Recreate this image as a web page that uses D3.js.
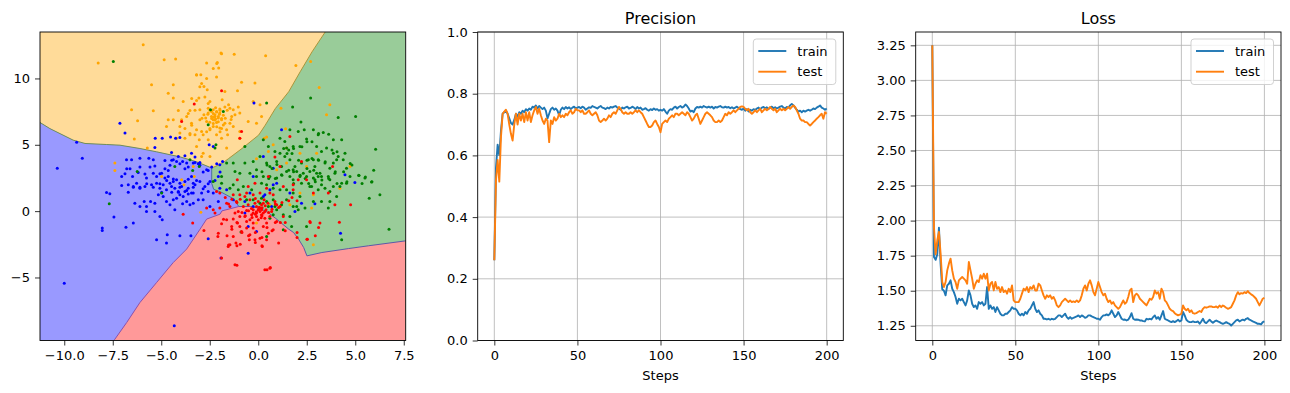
<!DOCTYPE html>
<html>
<head>
<meta charset="utf-8">
<script src="https://cdn.jsdelivr.net/npm/d3@7"></script>
<style>
  body { margin: 0; background: #fff; }
  svg { display: block; font-family: "DejaVu Sans", sans-serif; }
  .tick text { font-size: 13px; fill: #000; }
  .tick line { stroke: #000; stroke-width: 0.8; }
</style>
</head>
<body>
<svg id="chart" width="1290" height="393"></svg>
<script>
// ---- tick labels ----
const scatterXTicks = [-10, -7.5, -5, -2.5, 0, 2.5, 5, 7.5];
const scatterYTicks = [-5, 0, 5, 10];
const stepTicks = [0, 50, 100, 150, 200];
const precisionTicks = [0, 0.2, 0.4, 0.6, 0.8, 1.0];
const lossTicks = [1.25, 1.5, 1.75, 2.0, 2.25, 2.5, 2.75, 3.0, 3.25];
const seriesNames = ["train", "test"];

// ---- decision boundaries (feature space) ----
const orangeBlue = [[-11.25,6.68],[-10.74,6.22],[-9.54,5.35],[-8.93,5.10],[-7.81,5.02],[-7.13,4.97],[-6.10,4.72],[-5.24,4.47],[-4.04,4.09],[-3.18,3.72],[-2.4,3.25]];
const orangeGreen = [[3.45,13.5],[2.77,12.0],[2.16,10.5],[1.57,9.0],[0.88,7.73],[0.36,6.48],[0.02,5.73],[-0.84,4.72],[-1.53,3.96],[-1.87,3.59],[-2.4,3.25]];
const blueGreen = [[-2.4,3.25],[-2.4,2.1],[-2.3,1.65],[-1.87,1.40],[-1.3,0.95],[-1.0,0.35]];
const blueRed = [[-1.0,0.35],[-1.87,0.02],[-1.97,-0.23],[-2.66,-0.6],[-3.0,-1.36],[-3.69,-2.86],[-4.38,-3.87],[-5.24,-5.38],[-6.10,-6.89],[-6.78,-8.39],[-7.39,-9.65],[-7.45,-9.75]];
const redGreen = [[-1.0,0.35],[-0.4,0.35],[0.1,0.2],[0.5,-0.1],[0.9,-0.55],[1.57,-1.36],[1.82,-1.61],[2.08,-2.11],[2.34,-2.74],[2.51,-3.37],[3.28,-3.12],[4.66,-2.82],[5.69,-2.61],[7.6,-2.24]];

// ---- scatter points ----
const orangePts = [[-5.93,12.54],[-8.25,11.16],[-4.85,11.41],[-4.26,11.46],[-1.92,11.91],[-1.24,11.83],[0.38,11.71],[-2.66,11.16],[-2.11,11.21],[-2.04,10.78],[-3.18,10.28],[-2.96,10.28],[-2.15,10.10],[-5.50,9.52],[-4.38,9.52],[-2.80,9.40],[-2.63,9.15],[-0.86,9.72],[-0.17,9.65],[-1.07,9.07],[-1.72,9.02],[-4.64,8.89],[-4.38,8.52],[-3.87,8.27],[-3.18,8.34],[-3.06,8.52],[-2.49,8.27],[-1.86,8.39],[-1.53,8.02],[-0.26,8.27],[0.09,8.02],[-6.53,7.64],[-5.41,7.56],[-4.12,7.59],[-3.52,7.59],[-3.01,7.64],[-2.58,7.76],[-2.32,7.64],[-2.15,7.51],[-1.98,7.69],[-1.72,7.84],[-1.46,7.76],[-1.29,7.64],[-1.03,7.84],[-0.95,7.39],[-2.80,7.26],[-2.58,7.39],[-2.41,7.14],[-2.23,7.14],[-2.06,7.01],[-1.89,6.88],[-1.37,7.14],[-1.20,7.26],[-3.01,6.88],[-3.69,7.14],[-3.95,6.88],[-4.64,6.88],[-4.38,6.88],[-6.22,6.81],[-4.04,6.38],[-3.44,6.63],[-2.66,6.76],[-2.32,6.88],[-2.15,6.68],[-1.72,6.63],[-1.46,6.63],[-0.52,6.76],[-0.09,6.63],[0.17,7.14],[-4.73,6.38],[-3.18,6.13],[-2.92,6.01],[-2.49,6.13],[-1.98,6.26],[-1.63,6.13],[-1.29,6.38],[-0.95,6.01],[-3.52,5.75],[-3.26,5.75],[-2.84,5.75],[-2.15,5.75],[-1.58,5.75],[-6.39,5.43],[-5.72,4.75],[-3.04,5.38],[-2.58,5.38],[-1.89,5.50],[-0.95,5.50],[-3.18,4.87],[-2.84,4.37],[-2.49,4.12],[-2.92,4.12],[-4.21,5.50],[-4.04,5.88],[-3.78,5.50],[-2.32,6.38],[-2.23,7.26],[-1.98,7.39],[-2.41,7.51],[-2.71,7.01],[-2.20,6.95],[-2.06,7.14],[-7.39,3.62],[-7.39,3.07],[-4.98,2.61],[-3.95,2.36],[-3.83,1.98],[-2.96,-0.08],[-3.35,3.37],[-3.30,2.61],[2.84,-2.54],[3.14,9.32],[2.70,11.28],[3.69,8.02],[3.52,7.26],[1.94,10.98],[1.17,7.76],[1.41,6.21],[0.31,5.50],[0.43,5.58],[0.77,5.00],[-0.09,3.94],[-0.09,-0.90],[1.46,4.75],[4.73,3.37],[4.21,1.73],[2.84,1.23],[2.15,1.36],[1.63,0.48],[0.60,0.48],[0.17,0.98],[2.49,3.37],[-1.63,4.75],[1.46,3.62],[0.52,4.50],[0.95,3.12],[3.01,4.37],[2.15,4.37],[1.12,0.35],[2.75,0.23],
  [-2.49,7.61],[-2.32,7.36],[-2.14,7.48],[-1.97,7.61],[-2.40,6.98],[-2.23,6.86],[-2.06,6.73],[-1.89,6.98],[-2.32,6.60],[-2.14,6.35],[-1.89,6.23],[-2.49,6.23],[-2.66,5.98],[-1.97,5.98],[-1.80,7.23],[-2.58,8.11],[-2.75,8.61],[-3.01,9.37],[-3.18,10.25],[-2.92,9.62],[-2.66,9.99],[-2.32,10.75],[-2.14,11.12],[-1.89,11.87],[-3.43,8.49],[-3.26,7.61],[-3.61,7.36],[-3.43,6.48],[-3.78,6.23],[-3.52,5.85],[-2.3,7.1],[-2.0,7.3],[-1.7,7.0],[-2.6,7.3],[-1.6,7.6],[-2.2,7.8],[-2.9,7.0],[-1.4,6.9],[-2.5,6.7],[-1.8,6.5]];
const bluePts = [[-7.13,6.63],[-6.87,5.88],[-9.36,5.20],[-9.07,3.99],[-10.36,3.24],[-7.82,1.41],[-7.65,1.31],[-7.44,-0.45],[-8.04,-1.28],[-8.04,-1.46],[-6.82,-1.21],[-6.44,-0.90],[-10.0,-5.43],[-4.33,-8.64],[-5.24,-2.16],[-4.73,-2.41],[-4.69,-1.78],[-4.04,-1.86],[-3.47,-1.86],[-2.58,-2.09],[-1.92,-3.54],[-0.52,-3.17],[-5.31,5.50],[-4.95,5.50],[-4.52,5.58],[-4.26,5.50],[-4.04,5.55],[-5.33,4.80],[-4.47,4.42],[-4.12,4.12],[-3.78,4.17],[-3.44,4.37],[-6.79,3.87],[-6.53,3.87],[-6.10,3.99],[-5.64,3.99],[-5.41,3.87],[-4.81,3.82],[-4.38,3.87],[-4.21,3.74],[-3.90,3.74],[-3.69,3.62],[-3.26,3.67],[-3.09,3.57],[-3.01,3.67],[-7.04,2.61],[-6.48,2.61],[-6.19,2.91],[-5.84,2.79],[-5.76,2.49],[-5.41,2.86],[-5.24,2.61],[-4.98,2.86],[-4.81,2.49],[-4.64,2.61],[-4.55,2.11],[-4.38,2.24],[-4.21,2.36],[-4.04,2.11],[-3.78,2.24],[-3.61,2.41],[-3.44,2.61],[-3.35,2.11],[-6.70,1.98],[-6.44,1.86],[-6.27,2.11],[-6.10,1.73],[-5.84,1.86],[-5.50,1.98],[-5.24,2.11],[-5.07,1.73],[-4.90,1.98],[-4.73,1.61],[-4.47,1.86],[-4.30,1.73],[-4.12,1.48],[-3.95,1.86],[-3.78,1.48],[-3.61,1.73],[-3.44,1.36],[-3.26,1.98],[-3.01,2.24],[-2.75,1.86],[-2.58,1.48],[-2.49,2.24],[-6.36,0.60],[-6.10,0.35],[-5.88,0.73],[-5.76,0.35],[-5.55,0.73],[-5.33,0.60],[-5.15,1.23],[-4.90,1.11],[-4.73,0.73],[-4.55,0.48],[-4.38,0.85],[-4.21,0.98],[-4.04,1.23],[-3.87,1.11],[-3.69,0.73],[-3.52,0.48],[-3.35,0.60],[-3.09,0.85],[-2.84,0.85],[-2.49,0.35],[-5.76,-0.03],[-5.33,-0.03],[-5.07,-0.40],[-4.95,-0.65],[-4.30,0.10],[-3.90,0.55],[-3.35,1.36],[-2.92,1.36],[-2.66,3.12],[-2.53,5.00],[-2.32,4.87],[-1.98,3.49],[-1.84,3.74],[1.20,6.13],[-0.22,8.14],[4.47,2.74],[4.98,2.16],[2.92,0.55],[4.24,-1.66],[1.89,-0.03],[0.34,1.23],[0.77,1.98],[2.23,0.60],[1.63,1.36],[0.60,1.61],[0.26,1.11],[-0.43,1.36],[-0.69,0.73],[-1.63,1.61],[-1.98,1.73],[-2.06,2.61],[-1.29,0.85],[0.77,3.24],[0.95,2.11],[-0.26,2.61],[0.26,4.12],[0.69,0.35],[-0.26,0.35],[-0.69,-0.15],[-0.52,-1.16],[-2.06,0.73],[-2.32,1.36],[-0.09,-1.53],
  [-6.78,3.19],[-6.61,3.19],[-6.10,3.32],[-5.58,3.32],[-5.33,3.40],[-5.07,2.82],[-4.81,3.19],[-4.64,3.07],[-4.55,3.45],[-4.46,3.83],[-4.04,3.57],[-3.78,3.19],[-3.61,3.32],[-3.35,3.62],[-3.26,4.07],[-3.01,3.45],[-2.84,2.94],[-2.58,3.07],[-2.40,3.32],[-2.14,3.57],[-1.97,2.94],[-2.23,2.31],[-2.58,2.06],[-2.84,1.68],[-3.18,2.31],[-3.35,1.80],[-3.69,1.55],[-4.04,1.80],[-4.38,2.43],[-4.72,2.31],[-5.07,2.06],[-5.41,1.80],[-5.75,2.06],[-6.10,1.80],[-6.44,1.80],[-6.70,1.42],[-7.04,1.93],[-6.87,2.82],[-4.98,1.42],[-4.46,1.42],[-4.12,1.42],[-3.61,1.30]];
const greenPts = [[-7.47,11.28],[0.43,8.14],[1.77,7.84],[2.70,8.52],[2.20,6.71],[4.12,7.06],[5.02,7.14],[3.09,5.75],[2.37,6.13],[2.49,5.43],[3.35,5.93],[3.87,5.38],[4.30,5.38],[4.47,4.37],[6.05,4.67],[5.19,2.69],[5.50,2.49],[5.84,2.19],[5.72,0.98],[6.27,1.23],[6.74,-1.36],[4.30,-2.16],[3.61,0.23],[2.84,0.73],[3.26,0.73],[3.69,0.73],[3.87,1.86],[4.21,1.86],[4.55,2.11],[4.04,1.11],[3.69,1.48],[3.26,1.98],[2.92,2.36],[2.66,1.86],[2.23,2.11],[1.80,2.36],[1.63,2.61],[1.98,2.99],[2.32,2.86],[2.66,2.99],[3.01,2.86],[3.26,2.61],[3.61,2.61],[3.95,2.86],[4.04,3.87],[3.69,3.24],[3.44,3.62],[3.09,3.87],[2.84,3.87],[2.58,3.87],[2.23,3.62],[1.89,3.37],[1.63,3.87],[1.37,4.12],[1.12,4.37],[0.86,4.50],[0.52,4.87],[0.26,5.38],[0.09,4.12],[-0.26,3.74],[-0.69,4.87],[-0.69,3.62],[-0.95,2.86],[-1.20,2.99],[-1.29,3.62],[-1.63,3.62],[-1.89,2.11],[-2.32,2.24],[-1.89,2.61],[-0.43,2.86],[-0.09,3.12],[0.43,3.62],[0.60,3.37],[0.95,3.74],[1.20,3.37],[1.46,2.99],[1.20,2.74],[0.95,2.49],[0.60,2.61],[0.26,2.61],[0.17,2.11],[0.43,1.98],[0.77,1.73],[1.12,1.61],[1.46,1.61],[1.80,1.36],[2.15,1.11],[1.46,0.85],[1.20,0.48],[0.95,0.10],[0.77,-0.28],[1.29,-0.28],[1.63,-0.40],[2.06,0.10],[2.41,0.23],[1.72,-1.16],[2.49,-1.16],[1.98,0.35],[1.80,0.35],[2.75,1.86],[3.09,1.61],[3.44,1.73],[3.69,2.36],[4.73,2.61],[4.30,2.11],[2.92,3.37],[3.26,4.50],[2.15,4.87],[1.80,4.87],[1.46,4.75],[1.37,5.25],[1.12,5.50],[1.63,6.13],[2.06,6.01],[2.84,6.13],[3.52,4.75],[3.01,4.87],[3.87,4.37],[4.12,4.12],[-4.30,3.37],[-3.38,3.07],[-3.52,3.87],[-3.04,3.37],[-2.18,5.00],[-2.23,4.75],[-2.58,6.51],[-2.46,7.64],[-1.80,7.51],[-4.98,1.36],[-6.24,2.99],[-7.68,0.55],[-0.89,-1.58],[0.43,-1.91],[1.29,-1.41],[0.60,-0.53],[0.09,0.60],[-0.26,0.85],[0.17,0.98],[0.43,0.73],[0.77,0.85],[-0.60,0.85],[-0.34,1.61],[-0.77,1.86],[-1.03,1.61],[-1.29,1.98],[-1.46,1.73],[0.52,0.35],[0.86,0.35],[-0.09,2.61],[1.80,3.12],[2.15,2.61],[2.49,2.61],[2.84,2.49],[3.09,2.61],[3.18,2.86],[3.87,3.62],[4.38,3.87],[4.55,3.24],
  [3.63,5.80],[3.11,5.85],[2.77,5.22],[2.51,5.22],[2.25,4.85],[1.82,4.72],[1.57,4.60],[1.31,4.72],[1.48,4.34],[1.74,4.34],[2.08,3.84],[2.51,3.84],[2.77,3.96],[3.11,3.84],[3.45,3.72],[3.80,4.60],[4.06,4.47],[4.74,3.59],[5.18,2.71],[5.52,2.58],[5.95,3.09],[4.83,3.47],[4.40,2.96],[3.97,2.96],[3.63,2.46],[3.28,2.34],[2.94,2.21],[2.42,2.46],[2.16,2.71],[1.82,2.96],[1.57,3.09],[0.96,3.51],[0.71,3.21],[0.45,3.47],[0.19,2.96],[0.54,2.46],[0.88,2.46],[1.22,2.71],[2.51,3.21],[2.86,3.09],[1.82,2.08],[2.60,2.08],[4.06,2.08],[4.57,2.21],[5.35,2.08],[5.86,2.21]];
const redPts = [[-3.30,8.07],[-1.89,9.07],[-3.95,6.76],[-0.86,6.01],[-0.95,5.50],[1.63,5.63],[3.83,3.37],[4.76,0.48],[4.18,-0.83],[3.18,-0.90],[2.66,-0.78],[2.53,-2.11],[0.86,4.07],[1.12,3.37],[0.52,2.61],[0.43,1.73],[0.77,1.23],[0.09,1.36],[-0.26,1.23],[-0.60,1.36],[-0.95,1.23],[-1.29,1.23],[-1.63,0.60],[-1.46,0.35],[-1.98,0.23],[-2.32,0.10],[-2.66,0.23],[-2.23,-0.15],[-3.87,-0.23],[-3.38,-0.90],[-2.80,-1.46],[-2.08,-1.91],[-1.89,-0.95],[-1.63,-0.65],[-1.29,-0.60],[-1.07,-0.90],[-0.86,-1.53],[-0.60,-1.28],[-0.43,-1.78],[-0.17,-2.16],[0.09,-2.04],[0.43,-2.16],[0.52,-1.66],[0.77,-1.41],[-1.29,-1.91],[-1.46,-2.54],[-1.55,-2.66],[-1.15,-2.41],[-2.06,-1.66],[-1.89,-3.54],[-1.20,-4.05],[-0.46,-2.16],[0.21,-2.66],[0.34,-4.42],[0.60,-4.30],[0.95,-0.78],[1.29,-0.40],[-0.26,0.10],[-0.09,0.35],[0.09,0.23],[0.26,0.60],[-0.09,-0.40],[-0.43,-0.65],[-0.69,-0.40],[-0.95,-0.40],[-1.20,-0.15],[-0.34,-0.28],[0.17,-0.28],[0.34,-0.53],[0.43,-0.90],[-0.26,-0.90],[-0.60,-0.78],[0,0.73],[-0.17,0.60],[0.17,0.48],[0.34,-0.03],[0.69,-0.03],[0.95,0.48],[1.12,0.35],[0.86,0.73],[-0.52,0.48],[-0.43,0.85],[-0.77,0.35],[-1.03,-0.03],[0.60,-0.40],[0,-0.65],[0.26,-1.16],[-0.26,-1.28],[-0.95,-1.16],[-1.37,-1.16],[-1.12,0.73],[-0.69,1.11],[1.80,1.61],[2.06,2.36],[2.23,3.74],[2.49,2.36],[3.95,0.48],[3.61,1.36],[2.84,1.36],[1.80,1.98],[0.60,1.36],[1.29,1.86],[-0.52,1.86],[-1.08,2.36],[-0.17,2.11],[-1.98,1.36],[-2.15,1.48],[-0.09,-0.15],[0.09,-0.03],[-0.26,-0.15],[0,0.10],[0.17,0.10],[0.26,-0.15],[0.05,0.3],[-0.1,-0.05],[0.2,0.25],[0.4,0.1],[-0.35,0.2],[0.15,-0.5],[0.5,0.6],[-0.6,0.05],[0.3,0.85],[-0.15,0.95],
  [-1.70,1.03],[-1.53,0.53],[-1.36,0.90],[-1.10,0.65],[-0.93,0.90],[-0.84,-0.10],[-0.67,-0.35],[-0.50,0.02],[-0.32,-0.48],[-0.15,-0.23],[0.02,0.15],[0.19,-0.35],[0.36,0.40],[0.53,-0.10],[0.71,0.15],[0.88,0.53],[1.05,0.27],[1.22,0.65],[1.39,-0.86],[1.57,0.78],[1.74,1.03],[2.00,0.78],[-1.79,-0.61],[-1.61,-1.86],[-1.36,-1.36],[-1.10,-0.86],[-0.84,-1.61],[-0.50,-1.86],[-0.15,-1.61],[0.19,-1.99],[0.45,-1.23],[0.71,-1.48],[0.88,-0.86],[1.14,-0.86],[1.39,-1.48],[2.00,-1.61],[2.00,-1.99],[2.51,-2.11],[2.94,-1.86],[3.11,-1.23],[2.68,-0.86],[-1.10,-2.61],[-1.53,-2.56],[-0.93,-2.49],[-0.15,-2.36],[0.19,-2.61],[1.05,-2.41],[0.62,-4.25],[0.45,-4.42],[-1.10,-4.07]];

// ---- training curves (one value per step) ----
const trainPrecision = [0.26,0.56,0.635,0.60,0.68,0.735,0.74,0.745,0.735,0.72,
0.705,0.70,0.715,0.735,0.725,0.74,0.735,0.745,0.74,0.75,
0.745,0.752,0.748,0.758,0.755,0.762,0.752,0.76,0.755,0.75,
0.755,0.745,0.72,0.735,0.75,0.755,0.748,0.752,0.745,0.73,
0.748,0.755,0.75,0.757,0.752,0.756,0.75,0.755,0.758,0.752,
0.755,0.757,0.753,0.758,0.755,0.748,0.752,0.756,0.754,0.76,
0.757,0.755,0.752,0.757,0.76,0.755,0.753,0.75,0.755,0.752,
0.757,0.755,0.758,0.76,0.755,0.752,0.748,0.755,0.752,0.756,
0.758,0.752,0.754,0.758,0.755,0.75,0.757,0.752,0.755,0.748,
0.75,0.753,0.748,0.745,0.75,0.747,0.752,0.748,0.75,0.745,
0.748,0.745,0.75,0.742,0.735,0.745,0.75,0.748,0.755,0.758,
0.752,0.757,0.76,0.755,0.758,0.765,0.76,0.752,0.742,0.745,
0.74,0.752,0.757,0.755,0.758,0.755,0.76,0.757,0.755,0.758,
0.755,0.758,0.752,0.757,0.755,0.758,0.76,0.756,0.755,0.758,
0.755,0.757,0.753,0.756,0.752,0.755,0.758,0.754,0.75,0.748,
0.752,0.745,0.75,0.742,0.748,0.745,0.75,0.747,0.752,0.755,
0.75,0.755,0.757,0.752,0.756,0.75,0.755,0.758,0.753,0.756,
0.752,0.755,0.758,0.76,0.755,0.752,0.757,0.755,0.762,0.767,
0.762,0.755,0.748,0.742,0.745,0.74,0.745,0.742,0.745,0.748,
0.745,0.748,0.752,0.75,0.755,0.758,0.762,0.755,0.752,0.748,0.752];
const testPrecision = [0.26,0.52,0.585,0.515,0.66,0.735,0.742,0.748,0.735,0.70,
0.67,0.648,0.70,0.735,0.70,0.735,0.713,0.735,0.708,0.74,
0.713,0.74,0.708,0.73,0.746,0.757,0.735,0.751,0.73,0.713,
0.702,0.719,0.713,0.643,0.713,0.702,0.724,0.713,0.719,0.735,
0.724,0.73,0.724,0.735,0.73,0.74,0.746,0.735,0.74,0.751,
0.746,0.746,0.74,0.746,0.735,0.735,0.74,0.746,0.735,0.73,
0.735,0.74,0.73,0.713,0.708,0.713,0.719,0.713,0.719,0.73,
0.724,0.735,0.74,0.735,0.746,0.757,0.751,0.74,0.735,0.74,
0.735,0.735,0.74,0.735,0.74,0.746,0.74,0.746,0.74,0.735,
0.724,0.713,0.702,0.692,0.692,0.697,0.708,0.713,0.702,0.692,
0.675,0.702,0.708,0.713,0.708,0.719,0.724,0.73,0.724,0.735,
0.735,0.73,0.735,0.74,0.735,0.73,0.74,0.735,0.724,0.713,
0.719,0.73,0.735,0.719,0.702,0.713,0.724,0.735,0.74,0.735,
0.73,0.724,0.713,0.708,0.708,0.713,0.708,0.713,0.724,0.735,
0.73,0.74,0.735,0.74,0.746,0.74,0.746,0.751,0.757,0.759,
0.757,0.751,0.746,0.751,0.74,0.735,0.74,0.746,0.74,0.746,
0.751,0.74,0.746,0.751,0.746,0.751,0.757,0.751,0.746,0.751,
0.74,0.746,0.751,0.746,0.751,0.746,0.751,0.757,0.751,0.757,
0.762,0.757,0.746,0.735,0.719,0.713,0.713,0.708,0.708,0.702,
0.697,0.702,0.708,0.713,0.719,0.724,0.73,0.735,0.719,0.74,0.735];
const trainLoss = [3.25,1.74,1.72,1.76,1.95,1.69,1.51,1.50,1.467,1.538,
1.55,1.574,1.514,1.49,1.455,1.407,1.443,1.431,1.443,1.419,
1.395,1.431,1.502,1.467,1.407,1.383,1.395,1.371,1.419,1.407,
1.419,1.395,1.407,1.526,1.371,1.395,1.371,1.383,1.348,1.383,
1.36,1.336,1.324,1.324,1.336,1.336,1.348,1.36,1.383,1.371,
1.371,1.36,1.336,1.324,1.336,1.324,1.348,1.336,1.36,1.371,
1.395,1.419,1.371,1.348,1.36,1.336,1.324,1.30,1.30,1.295,
1.30,1.293,1.30,1.295,1.30,1.312,1.324,1.324,1.312,1.324,
1.336,1.312,1.30,1.312,1.30,1.307,1.312,1.317,1.324,1.312,
1.324,1.317,1.307,1.312,1.324,1.324,1.317,1.312,1.307,1.30,
1.30,1.293,1.312,1.324,1.324,1.331,1.324,1.336,1.36,1.336,
1.312,1.324,1.348,1.324,1.30,1.293,1.295,1.288,1.293,1.312,
1.34,1.30,1.293,1.295,1.293,1.288,1.288,1.283,1.281,1.30,
1.295,1.30,1.295,1.312,1.324,1.30,1.312,1.293,1.324,1.355,
1.30,1.293,1.288,1.281,1.276,1.283,1.276,1.283,1.293,1.281,
1.288,1.348,1.324,1.293,1.281,1.276,1.276,1.281,1.276,1.276,
1.281,1.264,1.281,1.30,1.276,1.269,1.281,1.293,1.281,1.271,
1.281,1.288,1.281,1.276,1.269,1.264,1.269,1.276,1.269,1.264,
1.252,1.264,1.276,1.288,1.293,1.281,1.288,1.293,1.288,1.30,
1.305,1.293,1.288,1.281,1.276,1.271,1.264,1.264,1.26,1.276,1.281];
const testLoss = [3.25,1.95,1.76,1.86,1.92,1.764,1.562,1.526,1.562,1.645,
1.693,1.729,1.645,1.586,1.562,1.514,1.574,1.586,1.598,1.586,
1.574,1.55,1.705,1.645,1.586,1.514,1.55,1.574,1.562,1.61,
1.586,1.621,1.586,1.621,1.502,1.55,1.562,1.502,1.562,1.514,
1.526,1.49,1.526,1.49,1.502,1.479,1.514,1.49,1.538,1.431,
1.419,1.419,1.419,1.443,1.479,1.514,1.502,1.526,1.49,1.526,
1.514,1.538,1.502,1.502,1.55,1.538,1.502,1.467,1.443,1.467,
1.455,1.467,1.443,1.455,1.431,1.395,1.383,1.395,1.419,1.431,
1.443,1.431,1.419,1.431,1.419,1.424,1.419,1.431,1.419,1.431,
1.467,1.514,1.538,1.502,1.55,1.574,1.538,1.49,1.467,1.514,
1.562,1.526,1.49,1.467,1.479,1.443,1.419,1.431,1.407,1.419,
1.395,1.383,1.371,1.383,1.407,1.431,1.407,1.419,1.455,1.502,
1.514,1.419,1.467,1.479,1.467,1.443,1.431,1.419,1.407,1.395,
1.419,1.443,1.436,1.455,1.502,1.479,1.49,1.443,1.514,1.49,
1.431,1.419,1.395,1.371,1.36,1.355,1.34,1.331,1.324,1.329,
1.336,1.395,1.371,1.36,1.371,1.348,1.36,1.34,1.336,1.34,
1.348,1.355,1.348,1.371,1.383,1.379,1.383,1.388,1.388,1.383,
1.383,1.388,1.379,1.395,1.383,1.395,1.388,1.379,1.371,1.376,
1.383,1.407,1.431,1.467,1.49,1.474,1.483,1.479,1.49,1.483,
1.498,1.483,1.474,1.467,1.455,1.443,1.419,1.395,1.419,1.443,1.45];

// ---- layout ----
const svg = d3.select("#chart");
const axTop = 32, axBottom = 340.5;
const minus = (s) => s.replace(/-/g, "\u2212");
const colors = { train: "#1f77b4", test: "#ff7f0e" };

function styleAxis(g) {
  g.select(".domain").remove();
  g.selectAll(".tick text").attr("font-family", "DejaVu Sans").attr("font-size", 13);
}

function frame(left, right) {
  svg.append("rect")
    .attr("x", left).attr("y", axTop)
    .attr("width", right - left).attr("height", axBottom - axTop)
    .attr("fill", "none").attr("stroke", "#000").attr("stroke-width", 0.9);
}

// ---- panel 1: decision regions + scatter ----
function drawScatter() {
  const left = 40, right = 405.7;
  const x = d3.scaleLinear().domain([-11.25, 7.6]).range([left, right]);
  const y = d3.scaleLinear().domain([-9.75, 13.5]).range([axBottom, axTop]);

  svg.append("clipPath").attr("id", "clip1")
    .append("rect").attr("x", left).attr("y", axTop)
    .attr("width", right - left).attr("height", axBottom - axTop);

  const g = svg.append("g").attr("clip-path", "url(#clip1)");
  const poly = d3.line().x((d) => x(d[0])).y((d) => y(d[1]));

  // green is the background class, the other regions sit on top of it
  g.append("rect")
    .attr("x", left).attr("y", axTop)
    .attr("width", right - left).attr("height", axBottom - axTop)
    .attr("fill", "#99cc99");

  const orangeRegion = [[-11.25, 13.5], ...orangeGreen, ...orangeBlue.slice().reverse()];
  const blueRegion = [...orangeBlue, ...blueGreen, ...blueRed, [-11.25, -9.75]];
  const redRegion = [...redGreen, [7.6, -9.75], ...blueRed.slice().reverse()];

  g.append("path").attr("d", poly(orangeRegion) + "Z").attr("fill", "#ffdb99");
  g.append("path").attr("d", poly(blueRegion) + "Z").attr("fill", "#9999ff");
  g.append("path").attr("d", poly(redRegion) + "Z").attr("fill", "#ff9999");

  const edges = [
    [orangeBlue, "#6f8c5a"],
    [orangeGreen, "#a8963c"],
    [blueGreen, "#4a6fa0"],
    [blueRed, "#8a4fb0"],
    [redGreen, "#5a5aa8"],
  ];
  edges.forEach(([pts, c]) => {
    g.append("path").attr("d", poly(pts)).attr("fill", "none")
      .attr("stroke", c).attr("stroke-width", 1);
  });

  const groups = [
    [orangePts, "orange"],
    [bluePts, "blue"],
    [greenPts, "green"],
    [redPts, "red"],
  ];
  groups.forEach(([pts, c]) => {
    g.append("g").selectAll("circle").data(pts).enter().append("circle")
      .attr("cx", (d) => x(d[0])).attr("cy", (d) => y(d[1]))
      .attr("r", 1.5).attr("fill", c);
  });

  svg.append("g").attr("transform", `translate(0,${axBottom})`)
    .call(d3.axisBottom(x).tickValues(scatterXTicks).tickSize(5).tickPadding(5)
      .tickFormat((d) => minus(d3.format(".1f")(d))))
    .call(styleAxis);
  svg.append("g").attr("transform", `translate(${left},0)`)
    .call(d3.axisLeft(y).tickValues(scatterYTicks).tickSize(5).tickPadding(5)
      .tickFormat((d) => minus(d3.format("d")(d))))
    .call(styleAxis);

  frame(left, right);
}

// ---- panels 2 and 3: training curves ----
function drawCurves(left, right, title, series, yDomain, yTicks, yFmt) {
  const x = d3.scaleLinear().domain([-10, 210]).range([left, right]);
  const y = d3.scaleLinear().domain(yDomain).range([axBottom, axTop]);

  const grid = svg.append("g");
  stepTicks.forEach((t) => {
    grid.append("line").attr("x1", x(t)).attr("x2", x(t))
      .attr("y1", axTop).attr("y2", axBottom)
      .attr("stroke", "#b0b0b0").attr("stroke-width", 0.8);
  });
  yTicks.forEach((t) => {
    grid.append("line").attr("x1", left).attr("x2", right)
      .attr("y1", y(t)).attr("y2", y(t))
      .attr("stroke", "#b0b0b0").attr("stroke-width", 0.8);
  });

  const line = d3.line().x((d, i) => x(i)).y((d) => y(d));
  series.forEach(([name, values]) => {
    svg.append("path").datum(values)
      .attr("d", line)
      .attr("fill", "none")
      .attr("stroke", colors[name])
      .attr("stroke-width", 1.9)
      .attr("stroke-linejoin", "round");
  });

  svg.append("g").attr("transform", `translate(0,${axBottom})`)
    .call(d3.axisBottom(x).tickValues(stepTicks).tickSize(5).tickPadding(5))
    .call(styleAxis);
  svg.append("g").attr("transform", `translate(${left},0)`)
    .call(d3.axisLeft(y).tickValues(yTicks).tickSize(5).tickPadding(5)
      .tickFormat(d3.format(yFmt)))
    .call(styleAxis);

  frame(left, right);

  svg.append("text")
    .attr("x", (left + right) / 2).attr("y", 24)
    .attr("text-anchor", "middle")
    .attr("font-size", 16)
    .text(title);

  svg.append("text")
    .attr("x", (left + right) / 2).attr("y", 380)
    .attr("text-anchor", "middle")
    .attr("font-size", 13)
    .text("Steps");

  // legend, upper right
  const lx = right - 90, ly = axTop + 7;
  const leg = svg.append("g").attr("transform", `translate(${lx},${ly})`);
  leg.append("rect")
    .attr("width", 82.5).attr("height", 45.5).attr("rx", 3)
    .attr("fill", "#fff").attr("fill-opacity", 0.8)
    .attr("stroke", "#cccccc").attr("stroke-width", 0.9);
  seriesNames.forEach((name, i) => {
    const cy = 12 + i * 20.7;
    leg.append("line")
      .attr("x1", 5).attr("x2", 33).attr("y1", cy).attr("y2", cy)
      .attr("stroke", colors[name]).attr("stroke-width", 1.9);
    leg.append("text")
      .attr("x", 44).attr("y", cy + 4.6)
      .attr("font-size", 13)
      .text(name);
  });
}

drawScatter();
drawCurves(477.7, 843.3, "Precision",
  [["train", trainPrecision], ["test", testPrecision]],
  [0, 1], precisionTicks, ".1f");
drawCurves(915.7, 1281, "Loss",
  [["train", trainLoss], ["test", testLoss]],
  [1.145, 3.345], lossTicks, ".2f");
</script>
</body>
</html>
